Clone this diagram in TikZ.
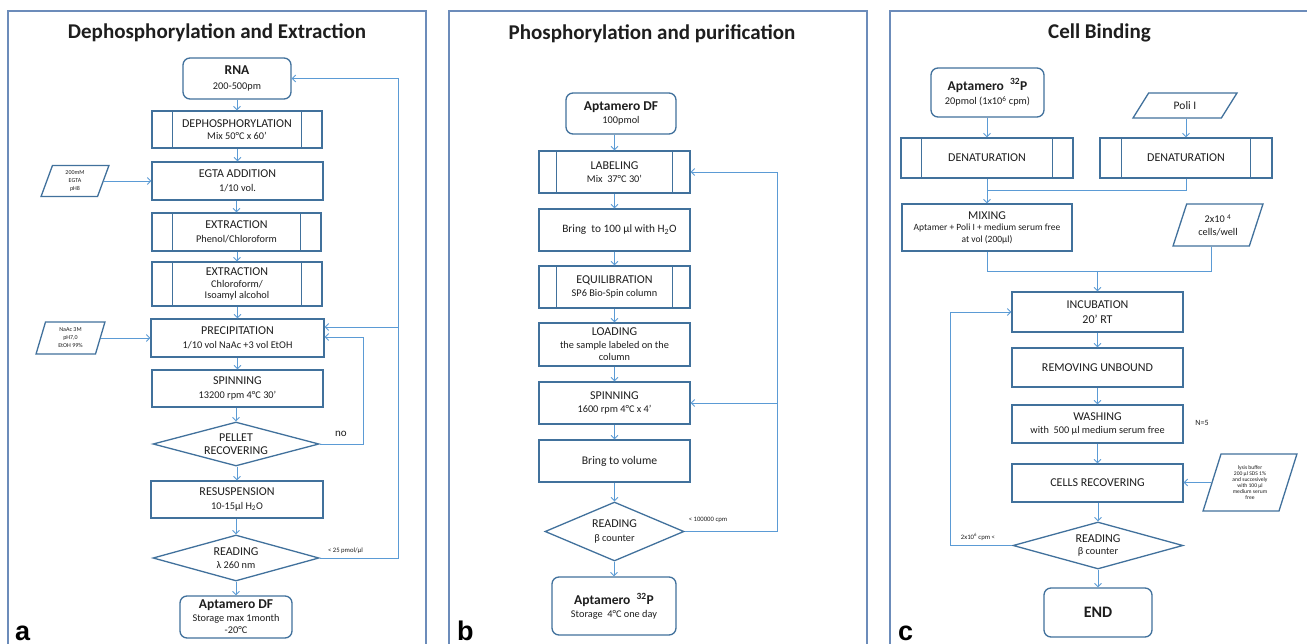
\documentclass[tikz,border=0pt]{standalone}
\usepackage{fontspec}
\setmainfont{Carlito}
\newfontfamily\lettf{Liberation Sans}
\usetikzlibrary{shapes.geometric,arrows.meta,calc}
\definecolor{boxc}{RGB}{65,113,156}
\definecolor{arrc}{RGB}{91,155,213}
\definecolor{panc}{RGB}{108,140,186}
\definecolor{txc}{RGB}{30,30,30}
\newcommand\myT{\fontsize{21}{25}\selectfont\bfseries}
\newcommand\myH{\fontsize{12}{13}\selectfont}
\newcommand\myS{\fontsize{10.3}{12.5}\selectfont}
\newcommand\myB{\fontsize{13.5}{15}\selectfont\bfseries}
\newcommand\myX{\fontsize{6.7}{8}\selectfont}
\newcommand\pplines[2]{%
  \draw[boxline] ($(#1.north west)+(#2,0)$) -- ($(#1.south west)+(#2,0)$);
  \draw[boxline] ($(#1.north east)+(-#2,0)$) -- ($(#1.south east)+(-#2,0)$);}
\tikzset{
  box/.style={draw=boxc, line width=1.3pt, fill=white, align=center, inner sep=0pt, text=txc, font=\myS},
  boxline/.style={draw=boxc, line width=1.3pt},
  rbox/.style={box, rounded corners=7pt},
  dia/.style={box, diamond, aspect=3},
  para/.style={box, trapezium, trapezium stretches=true},
  arr/.style={draw=arrc, line width=0.8pt, -{Straight Barb[length=3.5pt,width=7pt]}},
  ln/.style={draw=arrc, line width=0.8pt},
  panel/.style={draw=panc, line width=1.2pt},
  lbl/.style={inner sep=0pt, text=txc},
  plet/.style={inner sep=0pt, anchor=base west, font=\lettf\bfseries\fontsize{27}{30}\selectfont}
}
\begin{document}
\begin{tikzpicture}[x=1pt,y=-1pt]
\useasboundingbox (0,0) rectangle (1307,644);
\fill[white] (0,0) rectangle (1307,644);
% panels
\draw[panel] (8,644) -- (8,11) -- (426,11) -- (426,644);
\draw[panel] (449,644) -- (449,11) -- (867,11) -- (867,644);
\draw[panel] (890,644) -- (890,11) -- (1307,11);
\node[lbl, font=\myT] (ta) at (217,33) {Dephosphorylation and Extraction};
\node[lbl, font=\myT] (tb) at (652,34) {Phosphorylation and purification};
\node[lbl, font=\myT] (tc) at (1099.5,33) {Cell Binding};
\node[plet] (la) at (15,640) {a};
\node[plet] (lb) at (457,640) {b};
\node[plet] (lc) at (898,640) {c};

% ---------- panel a ----------
\node[rbox, minimum width=108pt, minimum height=41pt] (rna) at (237,78.5) {\myB RNA\\[2pt]200-500pm};
\node[box, minimum width=170pt, minimum height=37pt] (dep) at (237,129.5) {\myH DEPHOSPHORYLATION\\Mix 50°C x 60’};
\pplines{dep}{21}
\node[box, minimum width=171pt, minimum height=38pt] (egta) at (237.5,181) {\myH EGTA ADDITION\\[1pt]1/10 vol.};
\node[para, font=\fontsize{6}{8}\selectfont, trapezium left angle=77, trapezium right angle=103, minimum width=68pt, minimum height=31pt] (p1) at (75,181) {200mM\\EGTA\\pH8};
\node[box, minimum width=169pt, minimum height=38pt] (ex1) at (236.5,232) {\myH EXTRACTION\\[1pt]Phenol/Chloroform};
\pplines{ex1}{21}
\node[box, font=\fontsize{10.3}{11.5}\selectfont, minimum width=170pt, minimum height=44pt] (ex2) at (237,284) {\myH EXTRACTION\\Chloroform/\\Isoamyl alcohol};
\pplines{ex2}{21}
\node[box, minimum width=173pt, minimum height=38pt] (prec) at (237.5,338) {\myH PRECIPITATION\\[1pt]1/10 vol NaAc +3 vol EtOH};
\node[para, font=\fontsize{6}{8}\selectfont, trapezium left angle=77, trapezium right angle=103, minimum width=69pt, minimum height=32pt] (p2) at (70.5,338) {NaAc 3M\\pH7,0\\EtOH 99\%};
\node[box, minimum width=171pt, minimum height=37pt] (spin) at (237.5,388.5) {\myH SPINNING\\[1pt]13200 rpm 4°C 30’};
\node[dia, font=\myH, minimum width=166pt, minimum height=44pt] (pel) at (236,444) {PELLET\\RECOVERING};
\node[box, minimum width=172pt, minimum height=37pt] (res) at (237,499.5) {\myH RESUSPENSION\\[1pt]10-15µl H\textsubscript{2}O};
\node[dia, minimum width=166pt, minimum height=46pt] (rd) at (236,558) {\myH READING\\[1pt]λ 260 nm};
\node[rbox, minimum width=112pt, minimum height=42pt] (apdf) at (236,617) {\myB Aptamero DF\\Storage max 1month\\-20°C};

\foreach \a/\b in {rna/dep, dep/egta, egta/ex1, ex1/ex2, ex2/prec, prec/spin, spin/pel, pel/res, res/rd, rd/apdf}
  \draw[arr] (\b.north |- \a.south) -- (\b.north);
\draw[arr] (p1.east) -- (p1.east -| egta.west);
\draw[arr] (p2.east) -- (p2.east -| prec.west);
\coordinate (cna) at (363,337);
\draw[arr] (pel.east) -| (cna) -- (cna -| prec.east);
\node[lbl, font=\fontsize{11}{12}\selectfont] (no) at (341,434) {no};
\coordinate (coa) at (398,78.5);
\coordinate (cpa) at (398,327);
\draw[arr] (rd.east) -| (coa) -- (rna.east);
\draw[arr] (cpa) -- (cpa -| prec.east);
\node[lbl, font=\myX] (l25) at (345.5,551) {< 25 pmol/µl};

% ---------- panel b ----------
\node[rbox, minimum width=110pt, minimum height=41pt] (apb) at (621,113.5) {\myB Aptamero DF\\100pmol};
\node[box, minimum width=151pt, minimum height=42pt] (lab) at (614.5,172) {\myH LABELING\\[1pt]Mix~ 37°C 30’};
\pplines{lab}{18}
\node[box, font=\fontsize{11.3}{13}\selectfont, minimum width=151pt, minimum height=42pt] (br1) at (614.5,230) {\hspace*{10pt}Bring~ to 100 µl with H\textsubscript{2}O};
\node[box, minimum width=151pt, minimum height=42pt] (eq) at (614.5,287) {\myH EQUILIBRATION\\[1pt]SP6 Bio-Spin column};
\pplines{eq}{18}
\node[box, minimum width=151pt, minimum height=43pt] (load) at (614.5,344.5) {\myH LOADING\\the sample labeled on the\\column};
\node[box, minimum width=151pt, minimum height=42pt] (spb) at (614.5,403) {\myH SPINNING\\[1pt]1600 rpm 4°C x 4’};
\node[box, font=\fontsize{11.7}{13}\selectfont, minimum width=151pt, minimum height=42pt] (br2) at (614.5,461) {\hspace*{10pt}Bring to volume};
\node[dia, minimum width=139pt, minimum height=59pt] (rdb) at (614.5,531.5) {\myH READING\\[1pt]β counter};
\node[rbox, minimum width=124pt, minimum height=58pt] (ap32) at (614,606) {\myB Aptamero~ \textsuperscript{32}P\\Storage~ 4°C one day};
\draw[arr] (lab.north |- apb.south) -- (lab.north);
\foreach \a/\b in {lab/br1, br1/eq, eq/load, load/spb, spb/br2, br2/rdb, rdb/ap32}
  \draw[arr] (\a.south -| \b.north) -- (\b.north);
\coordinate (cb) at (777,172);
\draw[arr] (rdb.east) -| (cb) -- (lab.east);
\draw[arr] (spb.east -| cb) -- (spb.east);
\node[lbl, font=\myX] (l100) at (708,520) {< 100000 cpm};

% ---------- panel c ----------
\node[rbox, minimum width=113pt, minimum height=49pt] (apc) at (987.5,92.5) {\myB Aptamero~ \textsuperscript{32}P\\[2pt]20pmol (1x10\textsuperscript{6} cpm)};
\node[para, font=\fontsize{11.5}{13}\selectfont, trapezium left angle=59, trapezium right angle=121, minimum width=104pt, minimum height=25pt] (poli) at (1185,105.5) {Poli I};
\node[box, font=\myH, minimum width=172pt, minimum height=40pt] (den1) at (987,158) {DENATURATION};
\pplines{den1}{21}
\node[box, font=\myH, minimum width=172pt, minimum height=40pt] (den2) at (1186,158) {DENATURATION};
\pplines{den2}{22}
\node[box, font=\fontsize{9.5}{11.5}\selectfont, minimum width=170pt, minimum height=47pt] (mix) at (987,227.5) {\myH MIXING\\Aptamer + Poli I + medium serum free\\at vol (200µl)};
\node[para, trapezium left angle=68, trapezium right angle=112, minimum width=90pt, minimum height=42pt] (cel) at (1218,225) {2x10 \textsuperscript{4}\\cells/well};
\node[box, font=\fontsize{12}{15}\selectfont, minimum width=171pt, minimum height=40pt] (inc) at (1097.5,312) {INCUBATION\\20’ RT};
\node[box, font=\myH, minimum width=171pt, minimum height=39pt] (rem) at (1097.5,367.5) {REMOVING UNBOUND};
\node[box, minimum width=171pt, minimum height=38pt] (wash) at (1097.5,424) {\myH WASHING\\with~ 500 µl medium serum free};
\node[box, font=\myH, minimum width=171pt, minimum height=38pt] (crec) at (1097.5,483) {CELLS RECOVERING};
\node[para, font=\fontsize{5.6}{5.9}\selectfont, trapezium left angle=72, trapezium right angle=108, minimum width=94pt, minimum height=57pt] (lys) at (1250,482.5) {lysis buffer\\200 µl SDS 1\%\\and succesively\\with 100 µl\\medium serum\\free};
\node[dia, minimum width=170pt, minimum height=47pt] (rdc) at (1098,545.5) {\myH READING\\β counter};
\node[rbox, minimum width=108pt, minimum height=49pt] (endn) at (1098,612.5) {\fontsize{16}{18}\selectfont\bfseries END};
\node[lbl, font=\fontsize{8}{9}\selectfont] (n5) at (1202,423) {N=5};
\node[lbl, font=\myX] (l2x) at (978,537) {2x10\textsuperscript{6} cpm <};

\draw[arr] (den1.north |- apc.south) -- (den1.north);
\draw[arr] (den2.north |- poli.south) -- (den2.north);
\coordinate (m1) at (987,190);
\draw[ln] (den1.south) -- (m1);
\draw[ln] (den2.south) |- (m1);
\draw[arr] (m1) -- (mix.north);
\coordinate (m2) at (1097.5,271);
\coordinate (cb2) at ($(cel.bottom left corner)!0.5!(cel.bottom right corner)$);
\draw[ln] (mix.south) |- (m2);
\draw[ln] (cb2) |- (m2);
\draw[arr] (m2) -- (inc.north);
\foreach \a/\b in {inc/rem, rem/wash, wash/crec, crec/rdc, rdc/endn}
  \draw[arr] (\a.south -| \b.north) -- (\b.north);
\draw[arr] (lys.west) -- (lys.west -| crec.east);
\coordinate (clc) at (950,312);
\draw[arr] (rdc.west) -| (clc) -- (inc.west);
\end{tikzpicture}
\end{document}
